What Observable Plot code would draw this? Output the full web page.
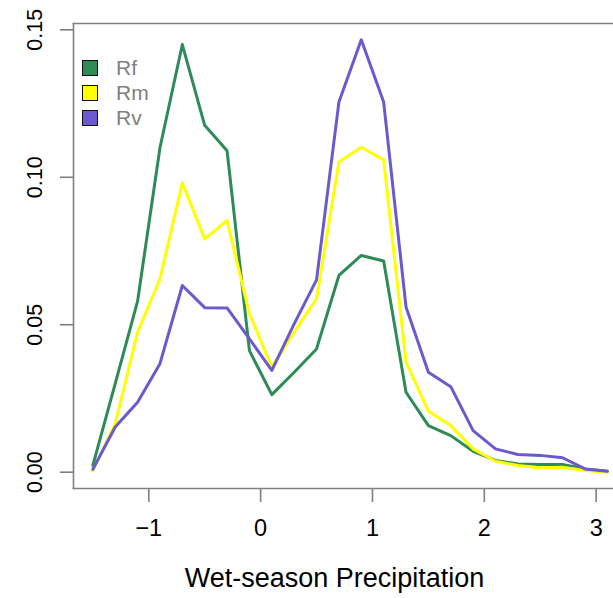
<!DOCTYPE html>
<html>
<head>
<meta charset="utf-8">
<script src="https://cdn.jsdelivr.net/npm/d3@7"></script>
<script src="https://cdn.jsdelivr.net/npm/@observablehq/plot@0.6"></script>
<style>
  body { margin: 0; background: white; }
  #wrap { position: relative; width: 613px; height: 598px; font-family: "Liberation Sans", Arial, sans-serif; }
  #legend { position: absolute; left: 82px; top: 55px; }
  .item { display: flex; align-items: center; height: 25px; }
  .sw { width: 14px; height: 14px; border: 1.5px solid #111; box-sizing: content-box; }
  .lab { margin-left: 18px; font-size: 21px; color: #808080; }
</style>
</head>
<body>
<div id="wrap"><div id="legend"></div></div>
<script>
const xs = [-1.5,-1.3,-1.1,-0.9,-0.7,-0.5,-0.3,-0.1,0.1,0.3,0.5,0.7,0.9,1.1,1.3,1.5,1.7,1.9,2.1,2.3,2.5,2.7,2.9,3.1];
const Rf = [0.0023,0.030,0.058,0.110,0.145,0.1176,0.109,0.0412,0.0263,0.0339,0.0418,0.0667,0.0735,0.0716,0.0271,0.0158,0.0124,0.0071,0.0040,0.0028,0.0026,0.0026,0.0011,0.0003];
const Rm = [0.0005,0.0165,0.0475,0.0655,0.0981,0.0791,0.0853,0.0537,0.0356,0.0475,0.0588,0.1052,0.1102,0.1059,0.0373,0.0207,0.0158,0.0079,0.0037,0.0023,0.0015,0.0017,0.0006,0.0000];
const Rv = [0.0010,0.0153,0.0237,0.0368,0.0633,0.0558,0.0557,0.0452,0.0345,0.0503,0.0652,0.1255,0.1466,0.1255,0.0560,0.0339,0.0290,0.0141,0.0079,0.0060,0.0057,0.0049,0.0011,0.0003];
const seriesNames = ["Rf","Rm","Rv"];
const seriesColors = ["#2E8B57","#FFFF00","#6A5ACD"];
const xTicks = [-1,0,1,2,3];
const yTicks = [0,0.05,0.10,0.15];
const yTickLabels = ["0.00","0.05","0.10","0.15"];
const xLabel = "Wet-season Precipitation";

const values = {Rf, Rm, Rv};
const data = seriesNames.flatMap(s => xs.map((x,i) => ({series: s, x, y: values[s][i]})));
const yTickData = yTicks.map((v,i) => ({v, t: yTickLabels[i]}));
const axisColor = "#7f7f7f";

const chart = Plot.plot({
  width: 613,
  height: 598,
  marginLeft: 73,
  marginRight: 0,
  marginTop: 23,
  marginBottom: 110,
  style: {fontFamily: "'Liberation Sans', Arial, sans-serif", background: "white", overflow: "visible"},
  x: {domain: [-1.673, 3.155]},
  y: {domain: [-0.00553, 0.15214]},
  color: {domain: seriesNames, range: seriesColors},
  marks: [
    Plot.frame({anchor: "left", stroke: axisColor, strokeWidth: 1.6}),
    Plot.frame({anchor: "top", stroke: axisColor, strokeWidth: 1.6}),
    Plot.frame({anchor: "bottom", stroke: axisColor, strokeWidth: 1.6}),
    Plot.axisX(xTicks, {tickSize: 14, tickPadding: 17, fontSize: 23.5, stroke: axisColor, strokeWidth: 1.6, color: "black", label: null}),
    Plot.axisY(yTicks, {tickSize: 13, stroke: axisColor, strokeWidth: 1.6, text: null, label: null}),
    Plot.text(yTickData, {y: "v", text: "t", frameAnchor: "left", dx: -38, rotate: -90, textAnchor: "middle", lineAnchor: "middle", fontSize: 21.5, fill: "black"}),
    Plot.line(data, {x: "x", y: "y", stroke: "series", z: "series", strokeWidth: 3}),
    Plot.text([xLabel], {text: d => d, frameAnchor: "bottom", dx: -9, dy: 90, lineAnchor: "middle", fontSize: 27, fill: "black"})
  ]
});
document.getElementById("wrap").prepend(chart);

const legend = document.getElementById("legend");
seriesNames.forEach((s,i) => {
  const it = document.createElement("div");
  it.className = "item";
  it.innerHTML = `<div class="sw" style="background:${seriesColors[i]}"></div><span class="lab">${s}</span>`;
  legend.appendChild(it);
});
</script>
</body>
</html>
